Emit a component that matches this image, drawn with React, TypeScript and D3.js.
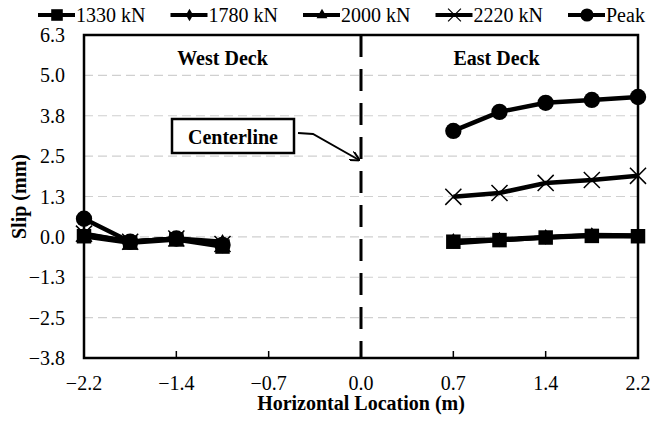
import React, { useEffect, useRef } from 'react';
import * as d3 from 'd3';

// x positions of the gauges (m)
const westX = [-2.16, -1.8, -1.44, -1.08];
const eastX = [0.72, 1.08, 1.44, 1.8, 2.16];

// slip values (mm) for each load level, west deck then east deck
const west1330 = [0.02, -0.18, -0.08, -0.3];
const east1330 = [-0.15, -0.1, -0.02, 0.03, 0.02];
const west1780 = [0.05, -0.15, -0.05, -0.15];
const east1780 = [-0.12, -0.08, 0.0, 0.06, 0.04];
const west2000 = [0.08, -0.15, -0.05, -0.25];
const east2000 = [-0.2, -0.1, -0.02, 0.05, 0.03];
const west2220 = [0.1, -0.15, -0.05, -0.22];
const east2220 = [1.24, 1.36, 1.67, 1.76, 1.89];
const westPeak = [0.56, -0.15, -0.05, -0.25];
const eastPeak = [3.28, 3.87, 4.15, 4.24, 4.33];

const seriesNames = ['1330 kN', '1780 kN', '2000 kN', '2220 kN', 'Peak'];
const seriesMarkers = ['square', 'diamond', 'triangle', 'cross', 'circle'];
const xTicks = [-2.16, -1.44, -0.72, 0, 0.72, 1.44, 2.16];
const yTicks = [-3.75, -2.5, -1.25, 0, 1.25, 2.5, 3.75, 5, 6.25];

const FONT = "'Liberation Serif', 'Times New Roman', 'DejaVu Serif', serif";

const App = () => {
  const ref = useRef<SVGSVGElement>(null);

  useEffect(() => {
    const svg = d3.select(ref.current);
    svg.selectAll('*').remove();

    const margin = { top: 35, right: 14, bottom: 63, left: 84 };
    const W = 652, H = 421;
    const width = W - margin.left - margin.right;
    const height = H - margin.top - margin.bottom;

    const x = d3.scaleLinear().domain([-2.16, 2.16]).range([0, width]);
    const y = d3.scaleLinear().domain([-3.75, 6.25]).range([height, 0]);

    const g = svg.append('g').attr('transform', `translate(${margin.left},${margin.top})`);

    // gridlines
    g.selectAll('.grid')
      .data(yTicks.filter(d => d > -3.75 && d < 6.25))
      .enter().append('line')
      .attr('x1', 0).attr('x2', width)
      .attr('y1', d => y(d)).attr('y2', d => y(d))
      .attr('stroke', '#d0d0d0').attr('stroke-width', 1.2)
      .attr('stroke-dasharray', '9,5');

    // center line
    g.append('line')
      .attr('x1', x(0)).attr('x2', x(0))
      .attr('y1', 0).attr('y2', height)
      .attr('stroke', '#000').attr('stroke-width', 3)
      .attr('stroke-dasharray', '22,12');

    // x ticks (inside)
    g.selectAll('.xt')
      .data(xTicks)
      .enter().append('line')
      .attr('x1', d => x(d)).attr('x2', d => x(d))
      .attr('y1', height).attr('y2', height - 7)
      .attr('stroke', '#000').attr('stroke-width', 1.5);

    g.selectAll('.xl')
      .data(xTicks)
      .enter().append('text')
      .attr('x', d => x(d)).attr('y', height + 32)
      .attr('text-anchor', 'middle')
      .attr('font-size', 20)
      .text(d => d3.format('.1f')(d));

    g.selectAll('.yl')
      .data(yTicks)
      .enter().append('text')
      .attr('x', -19).attr('y', d => y(d) + 7)
      .attr('text-anchor', 'end')
      .attr('font-size', 20)
      .text(d => d3.format('.1f')(d).replace('-0.0', '0.0'));

    // border
    g.append('rect')
      .attr('width', width).attr('height', height)
      .attr('fill', 'none').attr('stroke', '#000').attr('stroke-width', 2.5);

    const markerPath = (type: string) => {
      switch (type) {
        case 'square': return d3.symbol(d3.symbolSquare, 210)();
        case 'diamond': return d3.symbol(d3.symbolDiamond, 70)();
        case 'triangle': return d3.symbol(d3.symbolTriangle, 80)();
        case 'cross': return d3.symbol(d3.symbolX, 170)();
        default: return d3.symbol(d3.symbolCircle, 210)();
      }
    };

    const line = d3.line<[number, number]>().x(d => x(d[0])).y(d => y(d[1]));
    const allSeries = [
      [west1330, east1330],
      [west1780, east1780],
      [west2000, east2000],
      [west2220, east2220],
      [westPeak, eastPeak],
    ];

    allSeries.forEach((s, i) => {
      const type = seriesMarkers[i];
      [[westX, s[0]], [eastX, s[1]]].forEach(([xs, ys]) => {
        const pts = (xs as number[]).map((v, k) => [v, (ys as number[])[k]] as [number, number]);
        g.append('path')
          .attr('d', line(pts))
          .attr('fill', 'none').attr('stroke', '#000').attr('stroke-width', 4.5);
        g.selectAll(null)
          .data(pts)
          .enter().append('path')
          .attr('transform', d => `translate(${x(d[0])},${y(d[1])})`)
          .attr('d', markerPath(type))
          .attr('fill', type === 'cross' ? 'none' : '#000')
          .attr('stroke', '#000')
          .attr('stroke-width', type === 'cross' ? 1.5 : 0);
      });
    });

    // deck labels
    g.append('text')
      .attr('x', x(-1.08)).attr('y', 30)
      .attr('text-anchor', 'middle')
      .attr('font-size', 20).attr('font-weight', 'bold')
      .text('West Deck');
    g.append('text')
      .attr('x', x(1.08) - 3).attr('y', 30)
      .attr('text-anchor', 'middle')
      .attr('font-size', 20).attr('font-weight', 'bold')
      .text('East Deck');

    // centerline callout
    g.append('rect')
      .attr('x', 88).attr('y', 84).attr('width', 122).attr('height', 34)
      .attr('fill', '#fff').attr('stroke', '#000').attr('stroke-width', 2.5);
    g.append('text')
      .attr('x', 149).attr('y', 109)
      .attr('text-anchor', 'middle')
      .attr('font-size', 20).attr('font-weight', 'bold')
      .text('Centerline');
    svg.append('defs').append('marker')
      .attr('id', 'arrow').attr('viewBox', '0 0 10 10')
      .attr('refX', 9).attr('refY', 5)
      .attr('markerWidth', 5).attr('markerHeight', 5)
      .attr('orient', 'auto')
      .append('path').attr('d', 'M0,0 L10,5 L0,10').attr('fill', 'none')
      .attr('stroke', '#000').attr('stroke-width', 2);
    g.append('path')
      .attr('d', `M214,98 L229,99 L${x(0) - 2},125`)
      .attr('fill', 'none').attr('stroke', '#000').attr('stroke-width', 2)
      .attr('marker-end', 'url(#arrow)');

    // axis titles
    svg.append('text')
      .attr('x', margin.left + width / 2).attr('y', 410)
      .attr('text-anchor', 'middle')
      .attr('font-size', 20).attr('font-weight', 'bold')
      .text('Horizontal Location (m)');
    svg.append('text')
      .attr('transform', `translate(26,${margin.top + height / 2}) rotate(-90)`)
      .attr('text-anchor', 'middle')
      .attr('font-size', 20).attr('font-weight', 'bold')
      .text('Slip (mm)');

    // legend
    const legend = svg.append('g').attr('transform', 'translate(38,15)');
    seriesNames.forEach((name, i) => {
      const lg = legend.append('g').attr('transform', `translate(${i * 132.5},0)`);
      lg.append('line').attr('x1', 0).attr('x2', 37).attr('y1', 0).attr('y2', 0)
        .attr('stroke', '#000').attr('stroke-width', 4);
      lg.append('path')
        .attr('transform', 'translate(19,0) scale(0.8)')
        .attr('d', markerPath(seriesMarkers[i]))
        .attr('fill', seriesMarkers[i] === 'cross' ? 'none' : '#000')
        .attr('stroke', '#000')
        .attr('stroke-width', seriesMarkers[i] === 'cross' ? 1.5 : 0);
      lg.append('text')
        .attr('x', 38).attr('y', 6.5)
        .attr('font-size', 20)
        .text(name);
    });
  }, []);

  return (
    <svg
      ref={ref}
      width={652}
      height={421}
      fontFamily={FONT}
      style={{ position: 'absolute', left: 0, top: 0, background: '#fff', fontFamily: FONT }}
    />
  );
};

export default App;
